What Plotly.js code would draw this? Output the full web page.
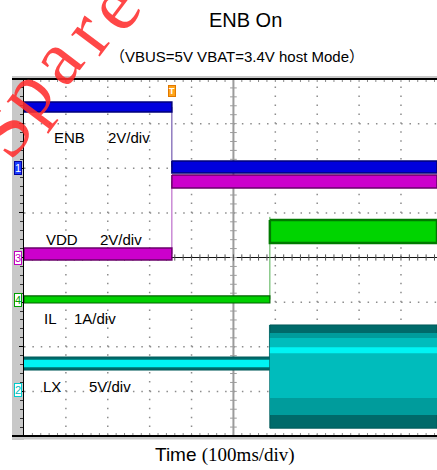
<!DOCTYPE html>
<html><head><meta charset="utf-8">
<script src="https://cdn.plot.ly/plotly-3.0.1.min.js"></script>
<style>html,body{margin:0;padding:0;background:#fff}#chart{width:437px;height:470px}</style>
</head><body><div id="chart"></div>
<script>
// ---- data (time in ms relative to screen centre, 100 ms/div) ----
const timeStart = -500;
const timeEnd = 486;
const enbEdge = -147;   // ENB falls / VDD rises
const ilEdge = 87;      // IL and LX start

const channelNames = ["ENB", "VDD", "IL", "LX"];
const channelScaleLabels = ["2V/div", "2V/div", "1A/div", "5V/div"];
const channelScales = [2, 2, 1, 5];
const channelNumbers = ["1", "3", "4", "2"];

// envelopes [before edge, after edge]
const enbUpper = [2.97, 0.33];
const enbLower = [2.52, -0.21];
const vddUpper = [0.43, 3.70];
const vddLower = [-0.11, 3.12];
const ilUpper = [0.09, 1.79];
const ilLower = [-0.07, 1.275];
const ilSpike = 1.86;
const lxOuterUpper = [3.65, 7.24];
const lxOuterLower = [2.19, -4.32];
const lxMidUpper = [3.40, 6.33];
const lxMidLower = [2.45, -2.86];
const lxCoreUpper = [3.31, 5.77];
const lxCoreLower = [2.53, -0.95];
const lxBrightUpper = [3.31, 4.75];
const lxBrightLower = [2.53, 4.08];

// ---- layout helpers ----
const offsets = {ENB: 2.0, VDD: 0.0, IL: -0.95, LX: -2.96};
const scaleOf = {};
channelNames.forEach((n, i) => scaleOf[n] = channelScales[i]);
const toDiv = (v, ch) => v / scaleOf[ch] + offsets[ch];
const px2x = px => (px - 24) / 413;
const py2y = py => (436 - py) / 357;

const traces = [];
function band(ch, x0, x1, u, l, fill, edge, w) {
  const U = toDiv(u, ch), L = toDiv(l, ch);
  traces.push({type: 'scatter', mode: 'lines', x: [x0, x1, x1, x0, x0], y: [U, U, L, L, U],
    fill: 'toself', fillcolor: fill, line: {color: edge, width: w === undefined ? 1 : w},
    hoverinfo: 'skip', showlegend: false});
}
function vline(ch, x, a, b, color) {
  traces.push({type: 'scatter', mode: 'lines', x: [x, x], y: [toDiv(a, ch), toDiv(b, ch)],
    line: {color: color, width: 1}, hoverinfo: 'skip', showlegend: false});
}
const mid = (u, l, i) => (u[i] + l[i]) / 2;
const segs = [[timeStart, enbEdge], [enbEdge, timeEnd]];
const segs2 = [[timeStart, ilEdge], [ilEdge, timeEnd]];

// edges
vline('ENB', enbEdge, mid(enbUpper, enbLower, 0), mid(enbUpper, enbLower, 1), '#5a3aa0');
vline('VDD', enbEdge, mid(vddUpper, vddLower, 0), mid(vddUpper, vddLower, 1), '#b050c0');
// VDD
segs.forEach((s, i) => band('VDD', s[0], s[1], vddUpper[i], vddLower[i], '#cc00cc', '#6a006a', 1.5));
// ENB
segs.forEach((s, i) => band('ENB', s[0], s[1], enbUpper[i], enbLower[i], '#0000dd', '#000078', 1.5));
// IL
vline('IL', ilEdge, mid(ilUpper, ilLower, 0), ilSpike, '#50b050');
band('IL', segs2[0][0], segs2[0][1], ilUpper[0], ilLower[0], '#00d000', '#006000', 1.2);
band('IL', segs2[1][0], segs2[1][1], ilUpper[1], ilLower[1], '#00d400', '#007a00', 2.5);
// LX
vline('LX', ilEdge - 1, mid(lxOuterUpper, lxOuterLower, 0), lxOuterUpper[1], '#2a9090');
segs2.forEach((s, i) => {
  band('LX', s[0], s[1], lxOuterUpper[i], lxOuterLower[i], '#006a6a', '#005a5a', 1);
  band('LX', s[0], s[1], lxMidUpper[i], lxMidLower[i], '#009c9c', 'rgba(0,0,0,0)', 0);
  band('LX', s[0], s[1], lxCoreUpper[i], lxCoreLower[i], '#00bcbc', 'rgba(0,0,0,0)', 0);
  band('LX', s[0], s[1], lxBrightUpper[i], lxBrightLower[i], '#00f4f4', 'rgba(0,0,0,0)', 0);
});

// ---- shapes ----
const shapes = [];
// dotted graticule
for (let t = -400; t <= 400; t += 100) {
  if (t === 0) continue;
  shapes.push({type: 'line', x0: t, x1: t, y0: -4, y1: 4, layer: 'below',
    line: {color: '#8c8c8c', width: 1.5, dash: '1.5px,7.42px'}});
}
for (let k = -3; k <= 3; k++) {
  if (k === 0) continue;
  shapes.push({type: 'line', x0: timeStart, x1: timeEnd, y0: k, y1: k, layer: 'below',
    line: {color: '#8c8c8c', width: 1.5, dash: '1.5px,6.88px'}});
}
// gray side bar and borders
shapes.push({type: 'rect', xref: 'paper', yref: 'paper', x0: px2x(12), x1: px2x(24), y0: py2y(440), y1: py2y(76),
  fillcolor: '#c8c8c8', line: {width: 0}, layer: 'below'});
shapes.push({type: 'rect', xref: 'paper', yref: 'paper', x0: px2x(12), x1: 1.0, y0: py2y(79), y1: py2y(76),
  fillcolor: '#c8c8c8', line: {width: 0}, layer: 'below'});
shapes.push({type: 'rect', xref: 'paper', yref: 'paper', x0: px2x(12), x1: 1.0, y0: py2y(439.5), y1: py2y(436),
  fillcolor: '#c8c8c8', line: {width: 0}, layer: 'below'});
shapes.push({type: 'line', xref: 'paper', yref: 'paper', x0: px2x(12), x1: 1.0, y0: py2y(79), y1: py2y(79),
  line: {color: '#000', width: 2}});
shapes.push({type: 'line', xref: 'paper', yref: 'paper', x0: px2x(12), x1: 1.0, y0: py2y(436), y1: py2y(436),
  line: {color: '#000', width: 2}});
// top / bottom minor ticks
for (let t = timeStart + 20; t < timeEnd; t += 20) {
  shapes.push({type: 'line', x0: t, x1: t, yref: 'paper', y0: 1 - 3 / 357, y1: 1, line: {color: '#888', width: 1}, layer: 'below'});
  shapes.push({type: 'line', x0: t, x1: t, yref: 'paper', y0: 0, y1: 3 / 357, line: {color: '#888', width: 1}, layer: 'below'});
}
// centre graticule
shapes.push({type: 'line', x0: 0, x1: 0, y0: -4, y1: 4, line: {color: '#9c9c9c', width: 2}, layer: 'below'});
shapes.push({type: 'line', x0: timeStart, x1: timeEnd, y0: 0, y1: 0, line: {color: '#111', width: 1.2}, layer: 'below'});
for (let k = -20; k <= 20; k++) {
  shapes.push({type: 'line', x0: -8, x1: 8, y0: k * 0.2, y1: k * 0.2, line: {color: '#9c9c9c', width: 1}, layer: 'below'});
}
for (let t = timeStart; t <= timeEnd; t += 20) {
  shapes.push({type: 'line', x0: t, x1: t, y0: -0.07, y1: 0.07, line: {color: '#555', width: 1}, layer: 'below'});
}

// ---- annotations ----
const annotations = [];
// watermark
const wm = [['S', 2, 130], ['p', 25, 94], ['a', 55, 60], ['r', 85, 31], ['e', 112, 6]];
wm.forEach(w => annotations.push({text: w[0], xref: 'paper', yref: 'paper', x: px2x(w[1]), y: py2y(w[2]),
  xanchor: 'center', yanchor: 'middle', showarrow: false, textangle: -53,
  font: {family: 'Liberation Serif, Times New Roman, serif', size: 78, color: 'rgba(255,45,45,0.88)'}}));

const lab = (txt, px, py) => ({text: txt, xref: 'paper', yref: 'paper', x: px2x(px), y: py2y(py),
  xanchor: 'left', yanchor: 'middle', showarrow: false,
  font: {family: 'Liberation Sans, Arial, sans-serif', size: 15, color: '#000'}});
const labelPos = [[53, 107, 137], [45, 99, 239], [43, 73, 318], [42, 88, 386]];
channelNames.forEach((n, i) => {
  annotations.push(lab(n, labelPos[i][0] - 1, labelPos[i][2]));
  annotations.push(lab(channelScaleLabels[i], labelPos[i][1] - 1, labelPos[i][2]));
});
// channel markers
const markerStyle = {
  '1': {bg: '#1a3cff', bd: '#0000a0', fc: '#ffffff'},
  '3': {bg: '#ffffff', bd: '#c000c0', fc: '#c000c0'},
  '4': {bg: '#ffffff', bd: '#00a000', fc: '#00a000'},
  '2': {bg: '#ffffff', bd: '#00cccc', fc: '#00bcbc'}
};
channelNames.forEach((n, i) => {
  const m = markerStyle[channelNumbers[i]];
  annotations.push({text: channelNumbers[i], xref: 'paper', yref: 'y', x: px2x(17.5), y: offsets[n],
    xanchor: 'center', yanchor: 'middle', showarrow: false, bgcolor: m.bg, bordercolor: m.bd, borderwidth: 1,
    borderpad: 0, font: {family: 'Liberation Sans, Arial', size: 11, color: m.fc}});
});
// trigger marker
annotations.push({text: '<b>T</b>', xref: 'x', yref: 'paper', x: enbEdge, y: py2y(91),
  xanchor: 'center', yanchor: 'middle', showarrow: false, bgcolor: '#ffa31a', bordercolor: '#e07800', borderwidth: 1,
  borderpad: 0, font: {family: 'Liberation Sans, Arial', size: 9, color: '#ffffff'}});
// subtitle
annotations.push({text: '（VBUS=5V VBAT=3.4V host Mode）', xref: 'paper', yref: 'paper', x: px2x(237.5), y: py2y(56),
  xanchor: 'center', yanchor: 'middle', showarrow: false,
  font: {family: 'Liberation Sans, Noto Sans CJK SC, sans-serif', size: 15, color: '#000'}});
// x label
annotations.push({text: 'Time <span style="font-family:Liberation Serif, Times New Roman, serif">(100ms/div)</span>',
  xref: 'paper', yref: 'paper', x: px2x(224.5), y: py2y(455),
  xanchor: 'center', yanchor: 'middle', showarrow: false,
  font: {family: 'Liberation Sans, Arial, sans-serif', size: 19, color: '#000'}});

const layout = {
  width: 437, height: 470,
  margin: {l: 24, r: 0, t: 79, b: 34, pad: 0},
  paper_bgcolor: '#ffffff', plot_bgcolor: '#ffffff',
  showlegend: false,
  title: {text: 'ENB On', x: 234.5 / 437, xref: 'paper', xanchor: 'center', y: 1 - 20 / 470, yref: 'container', yanchor: 'middle',
    font: {family: 'Liberation Sans, Arial, sans-serif', size: 20, color: '#000'}},
  xaxis: {range: [timeStart, timeEnd], showgrid: false, zeroline: false, showticklabels: false, ticks: '',
    showline: false, fixedrange: true},
  yaxis: {range: [-4, 4], tick0: -4, dtick: 1, showgrid: false, zeroline: false, showticklabels: false,
    showline: true, linecolor: '#000', linewidth: 1,
    ticks: 'outside', ticklen: 4, tickcolor: '#000', tickwidth: 1,
    minor: {dtick: 0.2, ticks: 'outside', ticklen: 3, tickcolor: '#333', tickwidth: 1}, fixedrange: true},
  shapes: shapes,
  annotations: annotations
};
Plotly.newPlot('chart', traces, layout, {displayModeBar: false, staticPlot: true});
</script></body></html>
